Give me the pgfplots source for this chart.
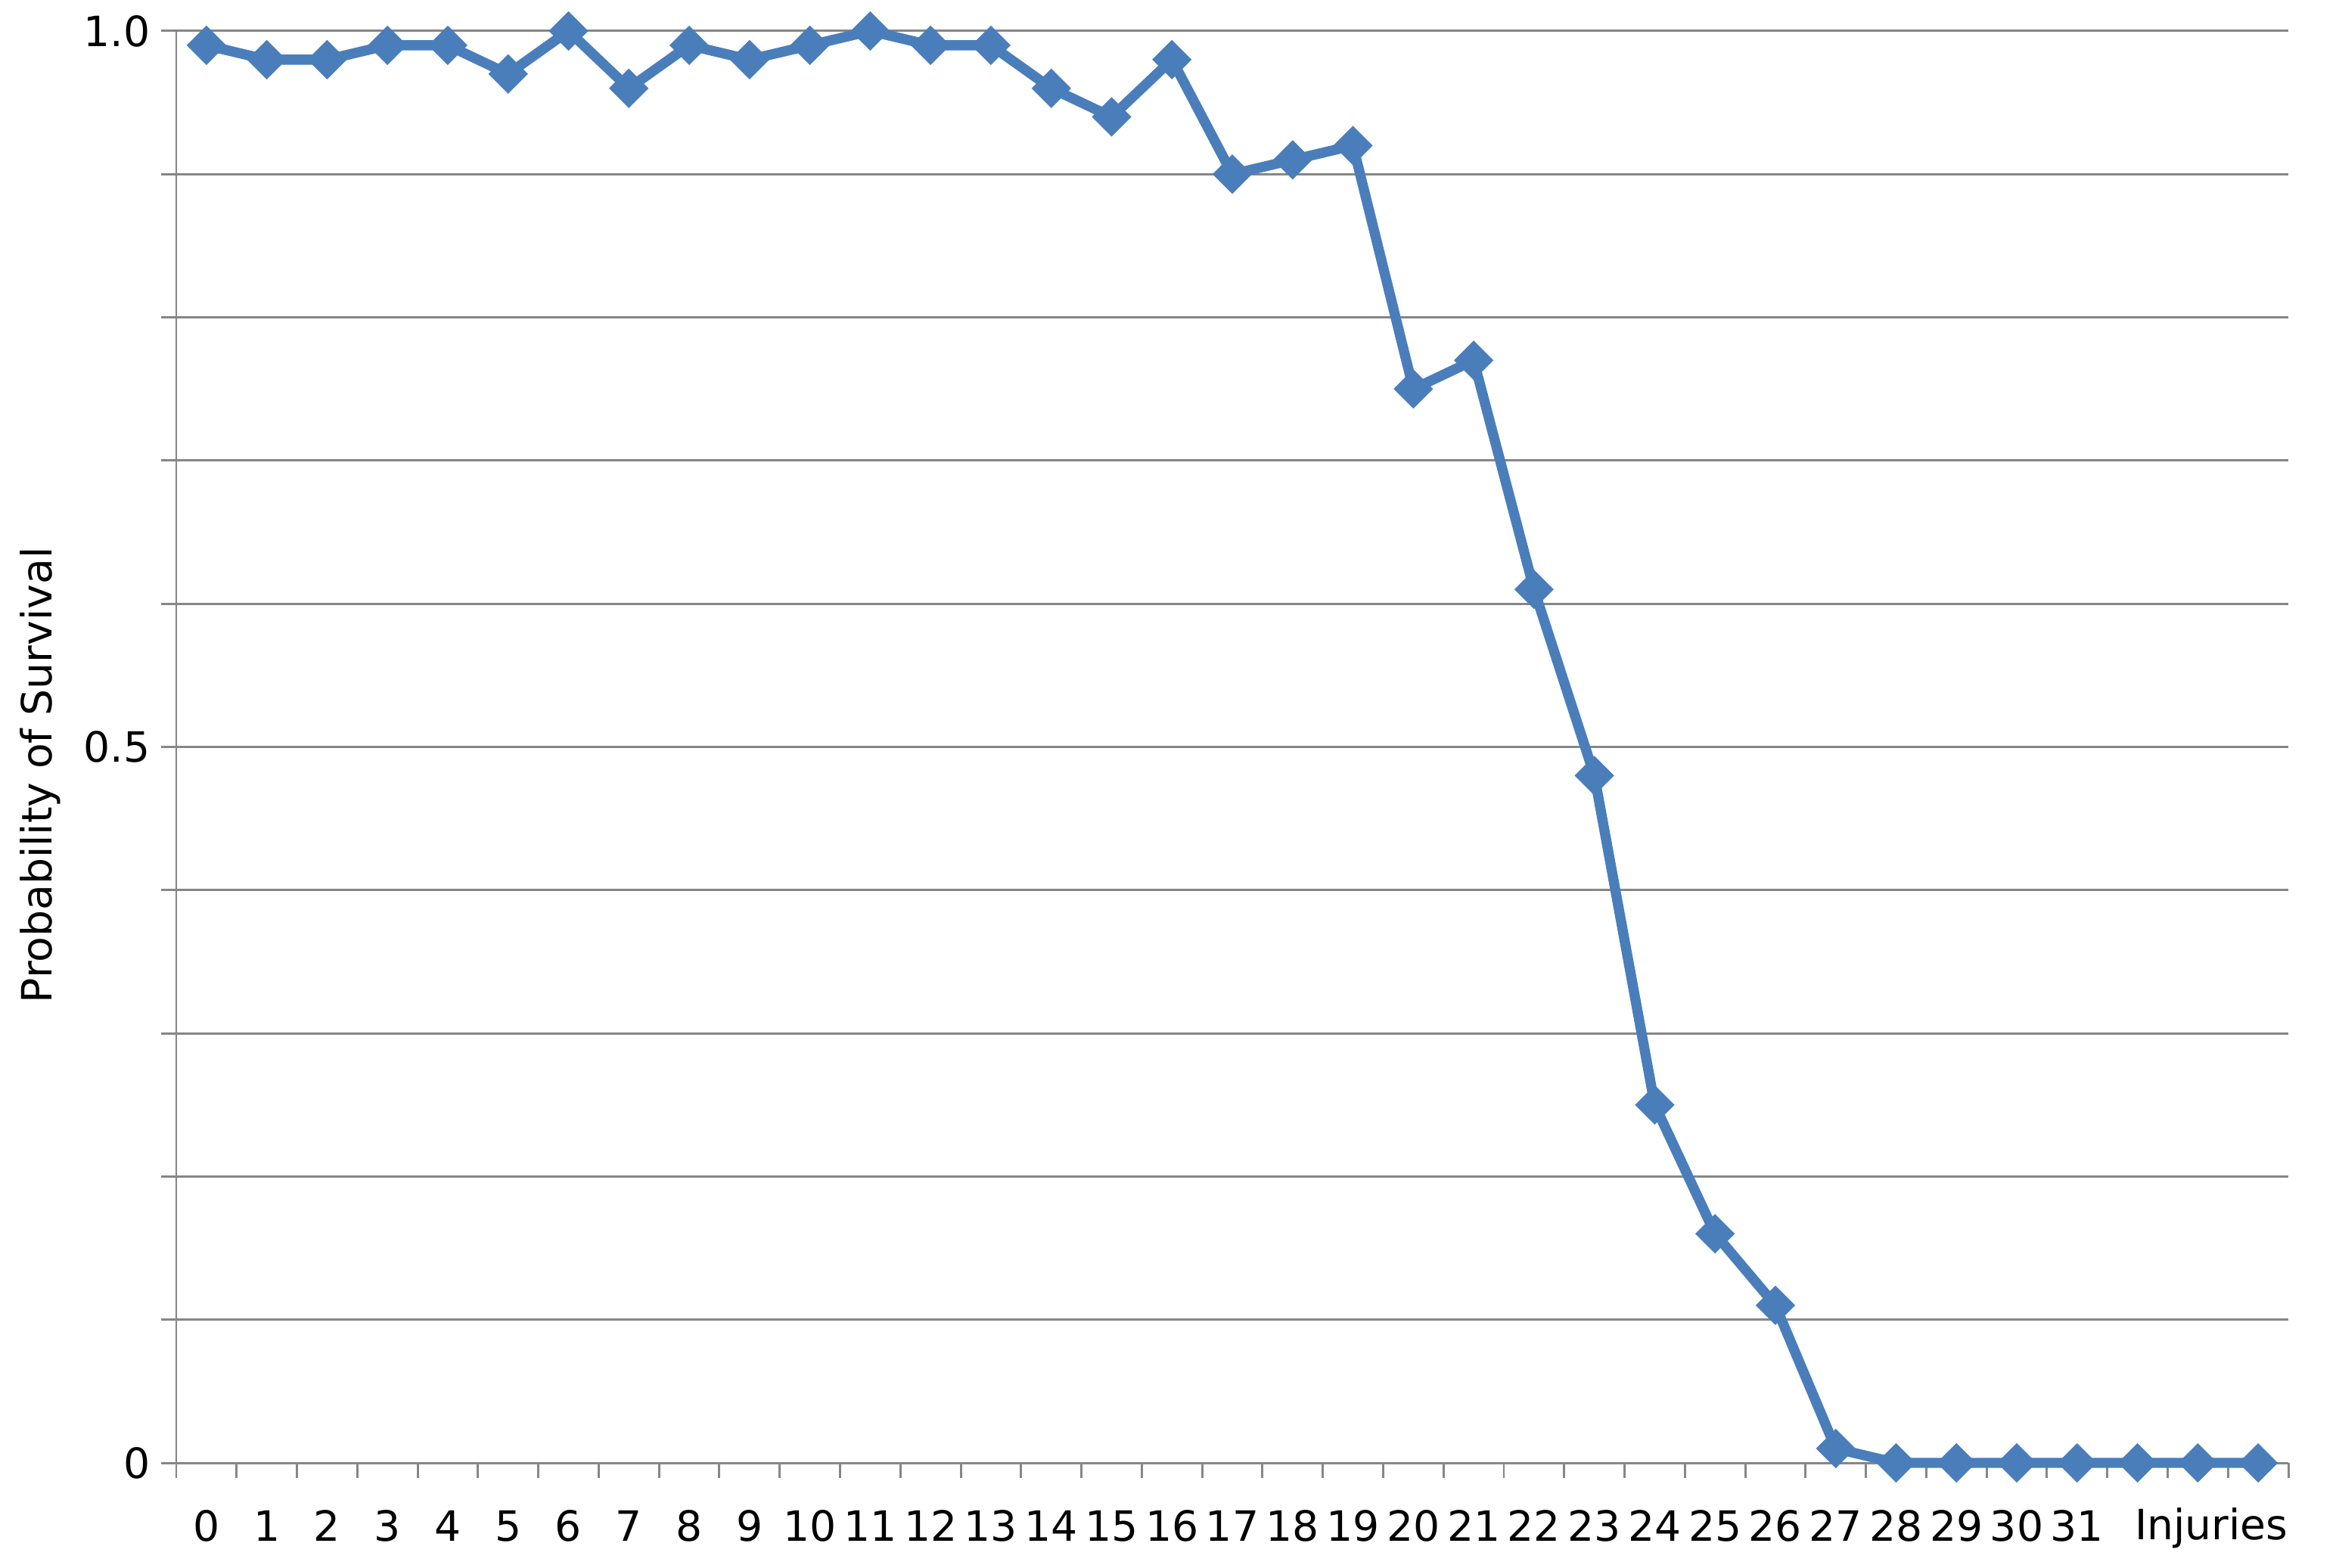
\documentclass[border=0pt]{standalone}
\usepackage{fontspec}
\setmainfont{DejaVu Sans}
\usepackage{pgfplots}
\pgfplotsset{compat=1.18}
\definecolor{serieblue}{HTML}{4A7EBB}
\definecolor{gridgray}{HTML}{868686}
\pgfplotstableread{
x y
0 0.99
1 0.98
2 0.98
3 0.99
4 0.99
5 0.97
6 1.00
7 0.96
8 0.99
9 0.98
10 0.99
11 1.00
12 0.99
13 0.99
14 0.96
15 0.94
16 0.98
17 0.90
18 0.91
19 0.92
20 0.75
21 0.77
22 0.61
23 0.48
24 0.25
25 0.16
26 0.11
27 0.01
28 0
29 0
30 0
31 0
32 0
33 0
34 0
}\survival
\begin{document}
\begin{tikzpicture}[font=\fontsize{15.7pt}{19pt}\selectfont]
\useasboundingbox (-2.33cm,-1.38cm) rectangle (28.59cm,19.34cm);
\begin{axis}[
  at={(0,0)}, anchor=south west,
  scale only axis, width=27.92cm, height=18.93cm,
  xmin=-0.5, xmax=34.5, ymin=0, ymax=1,
  clip=false,
  axis x line*=bottom, axis y line*=left,
  axis line style={gridgray, line width=0.85pt, -},
  xtick={-0.5,0.5,1.5,2.5,3.5,4.5,5.5,6.5,7.5,8.5,9.5,10.5,11.5,12.5,13.5,14.5,15.5,16.5,17.5,18.5,19.5,20.5,21.5,22.5,23.5,24.5,25.5,26.5,27.5,28.5,29.5,30.5,31.5,32.5,33.5,34.5},
  x tick label as interval,
  xticklabels={0,1,2,3,4,5,6,7,8,9,10,11,12,13,14,15,16,17,18,19,20,21,22,23,24,25,26,27,28,29,30,31,{},{},{}},
  ytick={0,0.1,0.2,0.3,0.4,0.5,0.6,0.7,0.8,0.9,1.0},
  yticklabels={0,{},{},{},{},0.5,{},{},{},{},1.0},
  ymajorgrids,
  major grid style={gridgray, line width=0.85pt},
  tick style={gridgray, line width=0.85pt},
  tick align=outside,
  major tick length=0.2cm,
  /pgf/number format/assume math mode=true,
  ticklabel style={font=\fontsize{15.7pt}{19pt}\selectfont, text=black},
  xticklabel style={anchor=base, inner sep=0pt, yshift=-0.83cm},
  yticklabel style={anchor=east, inner sep=0pt, xshift=-0.14cm},
]
\addplot[serieblue, line width=3.8pt, mark=square*,
  mark size=5pt, mark options={rotate=45, line width=0.5pt, fill=serieblue, draw=serieblue}]
  table[x=x, y=y] {\survival};
\node[anchor=base east, inner sep=0pt] at ([yshift=-1.015cm]rel axis cs:1,0) {Injuries};
\node[rotate=90, inner sep=0pt] at ([shift={(-1.80cm,9.09cm)}]rel axis cs:0,0) {Probability of Survival};
\end{axis}
\end{tikzpicture}
\end{document}
